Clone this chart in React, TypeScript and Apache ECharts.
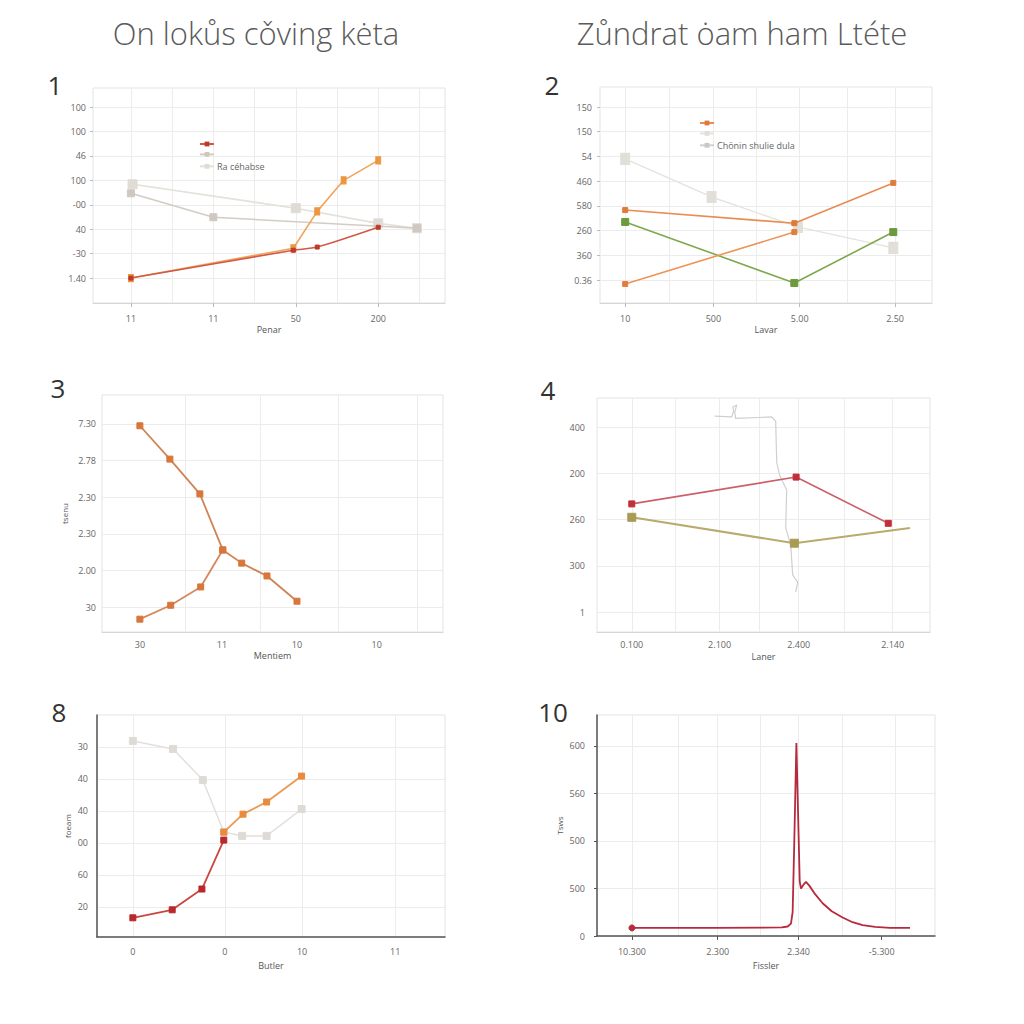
import React, { useEffect, useRef } from 'react';
import * as echarts from 'echarts';

// ---------- texts ----------
const titleLeft = 'On lokůs cǒving kėta';
const titleRight = 'Zůndrat ȯam ham Ltéte';
const panelNumbers = ['1', '2', '3', '4', '8', '10'];

// ---------- panel 1 ----------
const p1XLabels = ['11', '11', '50', '200'];
const p1YLabels = ['1.40', '-30', '40', '-00', '100', '46', '100', '100'];
const p1XName = 'Penar';
const p1LegendText = 'Ra céhabse';
const p1Orange = [[0, 0], [1.97, 1.22], [2.26, 2.73], [2.58, 4.0], [3.0, 4.82]];
const p1Red = [[0, 0], [1.97, 1.14], [2.26, 1.27], [3.0, 2.08]];
const p1Gray = [[0, 3.47], [1.0, 2.49], [3.47, 2.04]];
const p1Light = [[0.02, 3.84], [2.0, 2.86], [3.0, 2.24], [3.47, 2.04]];

// ---------- panel 2 ----------
const p2XLabels = ['10', '500', '5.00', '2.50'];
const p2YLabels = ['0.36', '360', '260', '580', '460', '54', '150', '150'];
const p2XName = 'Lavar';
const p2LegendText = 'Chönin shulie dula';
const p2OrangeA = [[0, 2.83], [1.88, 2.3], [2.98, 3.93]];
const p2OrangeB = [[0, -0.16], [1.88, 1.94]];
const p2Green = [[0, 2.35], [1.88, -0.12], [2.98, 1.94]];
const p2Light = [[0, 4.9], [0.96, 3.36], [1.92, 2.15], [2.98, 1.3]];

// ---------- panel 3 ----------
const p3XLabels = ['30', '11', '10', '10'];
const p3YLabels = ['30', '2.00', '2.30', '2.30', '2.78', '7.30'];
const p3XName = 'Mentiem';
const p3YName = 'tsenu';
const p3Upper = [[0, 4.95], [0.38, 4.04], [0.76, 3.09], [1.05, 1.56], [1.29, 1.2], [1.61, 0.85], [1.99, 0.16]];
const p3Lower = [[0, -0.33], [0.39, 0.05], [0.77, 0.55], [1.05, 1.56]];

// ---------- panel 4 ----------
const p4XLabels = ['0.100', '2.100', '2.400', '2.140'];
const p4YLabels = ['1', '300', '260', '200', '400'];
const p4XName = 'Laner';
const p4Red = [[0, 2.34], [1.89, 2.92], [2.95, 1.92]];
const p4Olive = [[0, 2.05], [1.87, 1.49], [3.2, 1.82]];
const p4Squiggle = [
  [0.954, 4.24], [1.149, 4.22], [1.172, 4.35], [1.161, 4.43], [1.207, 4.48], [1.184, 4.32],
  [1.195, 4.19], [1.609, 4.22], [1.655, 4.13], [1.667, 3.24], [1.701, 2.96], [1.782, 2.64],
  [1.77, 1.82], [1.828, 1.45], [1.851, 0.8], [1.908, 0.65], [1.885, 0.43],
];

// ---------- panel 8 ----------
const p8XLabels = ['0', '0', '10', '11'];
const p8YLabels = ['20', '60', '00', '40', '40', '30'];
const p8XName = 'Butler';
const p8YName = 'foeam';
const p8Red = [[0, -0.34], [0.45, -0.09], [0.79, 0.56], [1.04, 2.09]];
const p8Orange = [[1.04, 2.34], [1.26, 2.9], [1.53, 3.28], [1.93, 4.09]];
const p8Light = [[0, 5.19], [0.46, 4.94], [0.8, 3.97], [1.04, 2.34], [1.25, 2.22], [1.53, 2.22], [1.93, 3.06]];

// ---------- panel 10 ----------
const p10XLabels = ['10.300', '2.300', '2.340', '-5.300'];
const p10YLabels = ['0', '500', '500', '560', '600'];
const p10XName = 'Fissler';
const p10YName = 'Tsws';
const p10Signal = [
  [0, 0.17], [1.0, 0.17], [1.8, 0.18], [1.87, 0.2], [1.91, 0.26], [1.93, 0.5], [1.95, 2.0], [1.975, 4.06],
  [1.995, 2.6], [2.015, 1.15], [2.03, 1.0], [2.06, 1.08], [2.09, 1.14], [2.13, 1.06], [2.2, 0.88],
  [2.29, 0.69], [2.4, 0.52], [2.53, 0.39], [2.65, 0.29], [2.77, 0.23], [2.92, 0.19], [3.1, 0.17], [3.34, 0.17],
];

// ---------- layout / styling (not data) ----------
const FONT = 'Open Sans';
const GRID_LINE = '#ececec';
const BORDER = '#e3e3e3';
const LABEL = '#666';

type AxisSpec = {
  min: number; max: number; labelPos: number[]; labels: string[]; gridPos?: number[];
  name?: string; nameGap?: number; margin: number; dark?: boolean; lightLine?: boolean; ticks?: boolean;
};
type PanelSpec = { grid: { left: number; top: number; width: number; height: number }; x: AxisSpec; y: AxisSpec; xTickAxis?: boolean };

const panels: PanelSpec[] = [
  {
    grid: { left: 93, top: 88, width: 352, height: 215 },
    x: { min: -0.46, max: 3.81, labelPos: [0, 1, 2, 3], labels: p1XLabels, gridPos: [0, 0.5, 1, 1.5, 2, 2.5, 3, 3.5], name: p1XName, nameGap: 22, margin: 11, lightLine: true },
    y: { min: -1.02, max: 7.78, labelPos: [0, 1, 2, 3, 4, 5, 6, 7], labels: p1YLabels, margin: 7, ticks: true },
    xTickAxis: true,
  },
  {
    grid: { left: 600, top: 87, width: 332, height: 216 },
    x: { min: -0.28, max: 3.41, labelPos: [0, 0.98, 1.94, 3.0], labels: p2XLabels, gridPos: [0, 0.49, 0.98, 1.46, 1.94, 2.47, 3.0], name: p2XName, nameGap: 22, margin: 11, lightLine: true },
    y: { min: -0.93, max: 7.81, labelPos: [0, 1, 2, 3, 4, 5, 6, 7], labels: p2YLabels, margin: 8, ticks: true },
    xTickAxis: true,
  },
  {
    grid: { left: 102, top: 395, width: 341, height: 237 },
    x: { min: -0.48, max: 3.84, labelPos: [0, 1.04, 1.99, 3.0], labels: p3XLabels, gridPos: [0.57, 1.52, 2.51, 3.51], name: p3XName, nameGap: 19, margin: 8, lightLine: true },
    y: { min: -0.68, max: 5.79, labelPos: [0, 1, 2, 3, 4, 5], labels: p3YLabels, name: p3YName, nameGap: 34, margin: 6 },
  },
  {
    grid: { left: 597, top: 398, width: 333, height: 234 },
    x: { min: -0.4, max: 3.43, labelPos: [0, 1.01, 1.92, 3.0], labels: p4XLabels, gridPos: [0, 0.5, 1.01, 1.47, 1.92, 2.44, 3.0], name: p4XName, nameGap: 20, margin: 8, lightLine: true },
    y: { min: -0.43, max: 4.63, labelPos: [0, 1, 2, 3, 4], labels: p4YLabels, margin: 12 },
  },
  {
    grid: { left: 97, top: 715, width: 348, height: 222 },
    x: { min: -0.41, max: 3.57, labelPos: [0, 1.053, 1.935, 3.0], labels: p8XLabels, gridPos: [0, 1.053, 1.935, 3.0], name: p8XName, nameGap: 24, margin: 10, dark: true },
    y: { min: -0.94, max: 6.0, labelPos: [0, 1, 2, 3, 4, 5], labels: p8YLabels, name: p8YName, nameGap: 26, margin: 9, dark: true },
  },
  {
    grid: { left: 597, top: 715, width: 338, height: 221 },
    x: { min: -0.42, max: 3.64, labelPos: [0, 1.03, 2.0, 3.0], labels: p10XLabels, gridPos: [0, 0.55, 1.03, 1.54, 2.0, 2.53, 3.16], name: p10XName, nameGap: 25, margin: 11, dark: true },
    y: { min: 0, max: 4.65, labelPos: [0, 1, 2, 3, 4], labels: p10YLabels, name: p10YName, nameGap: 34, margin: 12, dark: true, ticks: true },
    xTickAxis: true,
  },
];

function fmt(vals: number[], labels: string[]) {
  return (v: number) => {
    for (let i = 0; i < vals.length; i++) if (Math.abs(vals[i] - v) < 1e-6) return labels[i];
    return '';
  };
}

function buildOption() {
  const grids: any[] = [];
  const xAxes: any[] = [];
  const yAxes: any[] = [];
  const xIdx: number[] = [];
  const yIdx: number[] = [];

  panels.forEach((p, gi) => {
    grids.push({ ...p.grid, show: true, borderColor: BORDER, borderWidth: 1, backgroundColor: 'transparent' });
    const lineColor = p.x.dark ? '#555' : '#d6d6d6';
    xIdx.push(xAxes.length);
    xAxes.push({
      type: 'value', gridIndex: gi, position: 'bottom', min: p.x.min, max: p.x.max,
      axisLine: { show: !!(p.x.dark || p.x.lightLine), onZero: false, lineStyle: { color: lineColor, width: p.x.dark ? 1.5 : 1 } },
      axisTick: { show: false, customValues: p.x.gridPos },
      splitLine: { show: true, lineStyle: { color: GRID_LINE, width: 1 } },
      axisLabel: {
        customValues: p.x.labelPos, formatter: fmt(p.x.labelPos, p.x.labels),
        color: LABEL, fontSize: 9, fontFamily: FONT, margin: p.x.margin,
      },
      name: p.x.name, nameLocation: 'middle', nameGap: p.x.nameGap,
      nameTextStyle: { color: '#555', fontSize: 9, fontFamily: FONT },
    });
    if (p.xTickAxis) {
      xAxes.push({
        type: 'value', gridIndex: gi, position: 'bottom', min: p.x.min, max: p.x.max,
        axisLine: { show: false, onZero: false },
        axisTick: { show: true, customValues: p.x.labelPos, length: 4, lineStyle: { color: p.x.dark ? '#555' : '#bbb' } },
        splitLine: { show: false },
        axisLabel: { show: false },
      });
    }
    yIdx.push(yAxes.length);
    yAxes.push({
      type: 'value', gridIndex: gi, position: 'left', min: p.y.min, max: p.y.max,
      axisLine: { show: !!p.y.dark, onZero: false, lineStyle: { color: '#555', width: 1.5 } },
      axisTick: { show: !!p.y.ticks, customValues: p.y.labelPos, length: 3, lineStyle: { color: p.y.dark ? '#555' : '#bbb' } },
      splitLine: { show: true, lineStyle: { color: GRID_LINE, width: 1 } },
      axisLabel: {
        customValues: p.y.labelPos, formatter: fmt(p.y.labelPos, p.y.labels),
        color: LABEL, fontSize: 9, fontFamily: FONT, margin: p.y.margin,
      },
      name: p.y.name, nameLocation: 'middle', nameGap: p.y.nameGap, nameRotate: 90,
      nameTextStyle: { color: '#555', fontSize: 8, fontFamily: FONT },
    });
  });

  const line = (name: string, gi: number, data: number[][], color: string, markerColor: string, symbol: string, size: any, width = 1.5, extra: any = {}) => ({
    name, type: 'line', xAxisIndex: xIdx[gi], yAxisIndex: yIdx[gi], data,
    symbol, symbolSize: size, showSymbol: true,
    lineStyle: { color, width },
    itemStyle: { color: markerColor, borderColor: markerColor },
    emphasis: { disabled: true },
    ...extra,
  });

  const series: any[] = [
    // panel 1
    line('p1-light', 0, p1Light, '#e4e0da', '#e0dcd5', 'rect', 9, 1.6, { z: 2 }),
    line('p1-gray', 0, p1Gray, '#d3ccc4', '#cfc8c0', 'rect', 7, 1.6, { z: 3 }),
    line('p1-orange', 0, p1Orange, '#f0a45c', '#ec963f', 'rect', [5, 7], 1.6, { z: 4 }),
    line('p1-red', 0, p1Red, '#cf5a45', '#c0392b', 'rect', 4, 1.6, { z: 5, smooth: 0.25 }),
    // panel 2
    line('p2-light', 1, p2Light, '#e6e3de', '#e2ded8', 'rect', [9, 11], 1.4, { z: 2 }),
    line('p2-orangeA', 1, p2OrangeA, '#e98c50', '#e07a3a', 'rect', 5, 1.6, { z: 4 }),
    line('p2-orangeB', 1, p2OrangeB, '#ed9456', '#e27d3c', 'rect', 5, 1.6, { z: 4 }),
    line('p2-green', 1, p2Green, '#7ea84c', '#6c9a3c', 'rect', 7, 1.6, { z: 3 }),
    // panel 3
    line('p3-upper', 2, p3Upper, '#cf8456', '#d9763a', 'rect', 6, 1.8),
    line('p3-lower', 2, p3Lower, '#d38a5c', '#d9763a', 'rect', 6, 1.8),
    // panel 4
    line('p4-squiggle', 3, p4Squiggle, '#cfcfcf', '#cfcfcf', 'none', 0, 1.2, { z: 1 }),
    line('p4-red', 3, p4Red, '#cc6068', '#c0303a', 'rect', 6, 1.6, { z: 3 }),
    line('p4-olive', 3, p4Olive, '#b9aa6e', '#a89c55', 'rect', (v: any, p: any) => (p.dataIndex < 2 ? 8 : 0), 2, { z: 3 }),
    // panel 8
    line('p8-light', 4, p8Light, '#e2e0dc', '#dedbd6', 'rect', 7, 1.5, { z: 2 }),
    line('p8-orange', 4, p8Orange, '#e99a52', '#e98a3c', 'rect', 6, 1.8, { z: 3 }),
    line('p8-red', 4, p8Red, '#c9483e', '#b8282c', 'rect', 6, 1.8, { z: 4 }),
    // panel 10
    line('p10-signal', 5, p10Signal, '#b52a3c', '#b52a3c', 'circle', (v: any, p: any) => (p.dataIndex === 0 ? 6 : 0), 1.8, { smooth: false }),
  ];

  const legendNames: Record<string, string> = {
    'p1-red': '', 'p1-gray': '', 'p1-light': p1LegendText,
    'p2-orangeA': '', 'p2-light': '', 'p2-green': p2LegendText,
  };

  const legends = [
    {
      orient: 'vertical', left: 194, top: 136, itemGap: 5, itemWidth: 14, itemHeight: 6,
      data: ['p1-red', 'p1-gray', { name: 'p1-light' }],
      formatter: (n: string) => legendNames[n] ?? '',
      textStyle: { color: '#666', fontSize: 9, fontFamily: FONT, padding: [0, 0, 0, -2] },
      selectedMode: false,
    },
    {
      orient: 'vertical', left: 694, top: 115, itemGap: 5, itemWidth: 14, itemHeight: 6,
      data: ['p2-orangeA', 'p2-light', { name: 'p2-green', itemStyle: { color: '#c8c8c8' }, lineStyle: { color: '#d0d0d0' } }],
      formatter: (n: string) => legendNames[n] ?? '',
      textStyle: { color: '#666', fontSize: 9, fontFamily: FONT, padding: [0, 0, 0, -2] },
      selectedMode: false,
    },
  ];

  const numPos = [[55, 85], [552, 85], [58, 388], [548, 390], [59, 712], [553, 712]];
  const graphic: any[] = [
    { type: 'text', x: 256, y: 33, style: { text: titleLeft, fill: '#5a5a5a', font: `300 31px "${FONT}"`, textAlign: 'center', textVerticalAlign: 'middle' } },
    { type: 'text', x: 742, y: 33, style: { text: titleRight, fill: '#5a5a5a', font: `300 31px "${FONT}"`, textAlign: 'center', textVerticalAlign: 'middle' } },
    ...panelNumbers.map((t, i) => ({
      type: 'text', x: numPos[i][0], y: numPos[i][1],
      style: { text: t, fill: '#333', font: `26px "${FONT}"`, textAlign: 'center', textVerticalAlign: 'middle' },
    })),
  ];

  return {
    animation: false,
    backgroundColor: '#ffffff',
    textStyle: { fontFamily: FONT },
    grid: grids,
    xAxis: xAxes,
    yAxis: yAxes,
    legend: legends,
    series,
    graphic,
  };
}

export default function App() {
  const ref = useRef<HTMLDivElement>(null);
  useEffect(() => {
    if (!ref.current) return;
    const chart = echarts.init(ref.current, undefined, { renderer: 'svg' });
    chart.setOption(buildOption() as any);
    return () => chart.dispose();
  }, []);
  return <div ref={ref} style={{ position: 'fixed', left: 0, top: 0, width: 1024, height: 1024, background: '#fff' }} />;
}
